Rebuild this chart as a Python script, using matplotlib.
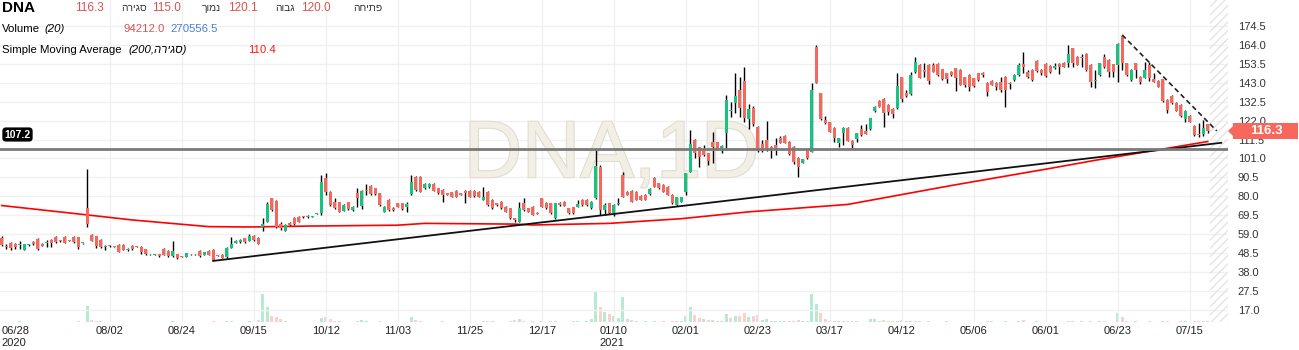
import matplotlib.pyplot as plt
import matplotlib.patheffects as pe
from matplotlib.patches import Rectangle, Polygon

plt.rcParams['font.family'] = ['Liberation Sans', 'DejaVu Sans']

# daily candles (bar 0 = 06/28/2020)
opens = [57.1, 52.5, 54.0, 53.4, 53.0, 50.3, 53.0, 54.5, 56.4, 53.6,
         54.2, 55.8, 57.6, 55.3, 57.6, 55.5, 57.6, 57.3, 54.0, 73.4,
         58.6, 57.8, 55.8, 52.1, 52.5, 52.1, 53.0, 53.0, 50.0, 52.5,
         52.1, 52.1, 50.6, 47.9, 47.5, 47.9, 50.8, 49.7, 46.9, 47.9,
         46.6, 46.6, 47.9, 47.9, 49.7, 47.5, 49.7, 50.3, 47.1, 47.5,
         46.6, 51.6, 54.3, 54.5, 56.7, 55.3, 58.0, 57.1, 62.8, 66.0,
         78.9, 77.4, 64.5, 60.8, 65.4, 68.2, 68.8, 68.8, 68.4, 68.8,
         70.4, 70.6, 90.0, 82.6, 77.1, 76.7, 72.1, 76.7, 72.4, 81.7,
         74.9, 83.7, 85.9, 84.5, 81.7, 71.5, 78.0, 73.7, 76.1, 76.1,
         73.9, 81.1, 91.0, 91.0, 84.5, 85.0, 86.9, 84.5, 83.5, 81.7,
         82.2, 83.2, 81.7, 83.2, 83.2, 83.2, 82.6, 78.0, 82.6, 78.0,
         76.1, 77.1, 74.3, 73.4, 67.8, 66.0, 76.1, 73.4, 74.3, 71.0,
         78.9, 76.5, 76.1, 67.8, 76.5, 77.1, 73.4, 73.9, 74.3, 78.0,
         78.0, 73.4, 79.3, 96.5, 72.4, 76.1, 70.6, 75.7, 91.9, 82.6,
         83.0, 82.6, 80.2, 80.8, 81.3, 90.0, 87.2, 86.3, 85.4, 80.8,
         75.2, 77.1, 82.6, 93.7, 111.3, 107.2, 106.3, 103.9, 110.3, 110.0,
         106.1, 115.0, 127.2, 132.0, 139.0, 144.2, 122.9, 129.0, 118.7, 109.0,
         111.3, 107.6, 108.3, 112.6, 113.5, 110.3, 107.6, 101.5, 98.7, 105.4,
         104.8, 163.0, 137.2, 122.4, 121.1, 118.1, 109.8, 115.0, 118.1, 110.9,
         111.8, 117.2, 116.4, 117.2, 127.2, 132.9, 134.0, 130.7, 128.5, 128.8,
         146.0, 137.5, 136.8, 148.8, 152.9, 150.1, 152.9, 152.9, 153.4, 150.5,
         148.2, 149.2, 151.0, 150.1, 146.0, 147.3, 145.5, 148.2, 148.6, 143.1,
         144.0, 142.7, 143.6, 146.4, 143.1, 144.5, 147.3, 153.2, 149.2, 150.1,
         155.1, 150.1, 153.4, 152.3, 151.0, 153.4, 154.2, 153.8, 162.1, 157.5,
         157.5, 159.0, 152.9, 144.0, 147.3, 157.5, 155.6, 153.2, 152.9, 169.0,
         153.8, 144.5, 153.8, 146.4, 145.9, 152.9, 145.1, 144.2, 144.9, 133.5,
         135.7, 132.0, 130.7, 122.7, 124.6, 119.0, 114.4, 114.4, 120.0]
highs = [57.8, 53.4, 54.5, 54.0, 55.3, 53.8, 53.6, 55.0, 56.8, 54.0,
         55.8, 56.2, 58.0, 55.6, 58.0, 55.8, 58.0, 57.6, 54.3, 95.2,
         59.0, 58.2, 56.2, 53.0, 52.8, 52.4, 53.4, 53.4, 51.2, 52.9,
         52.4, 52.5, 51.0, 48.2, 48.2, 48.2, 51.2, 50.0, 55.3, 48.2,
         46.9, 48.8, 48.2, 48.2, 50.0, 49.3, 50.0, 50.6, 47.4, 47.8,
         51.9, 57.7, 55.6, 56.1, 57.0, 59.0, 58.3, 57.4, 68.2, 77.1,
         79.3, 77.8, 66.0, 64.4, 65.7, 68.5, 69.1, 69.1, 69.4, 69.1,
         70.9, 91.9, 93.2, 83.0, 78.9, 77.0, 75.5, 77.0, 74.6, 84.5,
         83.3, 86.9, 86.2, 84.8, 82.0, 74.6, 78.3, 74.0, 76.4, 76.4,
         77.1, 91.9, 91.3, 91.3, 87.2, 87.2, 87.2, 84.8, 83.8, 82.0,
         82.5, 83.5, 82.0, 83.5, 83.5, 83.5, 82.9, 85.0, 82.9, 78.3,
         76.4, 77.4, 74.6, 73.7, 68.1, 77.1, 78.9, 73.7, 74.6, 71.3,
         79.2, 76.8, 76.4, 76.4, 76.8, 77.4, 73.7, 74.2, 78.0, 78.3,
         78.3, 77.4, 106.2, 97.4, 76.1, 76.4, 75.5, 78.9, 93.7, 82.9,
         83.3, 82.9, 80.5, 81.1, 84.4, 90.9, 87.5, 86.6, 85.7, 81.1,
         79.8, 79.8, 93.1, 116.8, 111.6, 107.5, 108.5, 104.2, 115.9, 110.3,
         108.2, 136.2, 132.5, 148.6, 146.4, 152.0, 131.2, 130.0, 119.0, 111.3,
         122.0, 107.9, 112.2, 113.5, 113.8, 110.6, 107.9, 101.8, 100.8, 105.7,
         143.0, 164.0, 137.5, 124.6, 121.4, 118.4, 112.5, 118.7, 118.4, 111.2,
         115.3, 119.6, 120.0, 123.6, 130.0, 133.2, 134.3, 131.0, 128.8, 148.6,
         146.3, 139.0, 149.2, 157.1, 153.2, 153.8, 153.2, 153.8, 153.7, 150.8,
         148.5, 149.5, 151.3, 150.4, 146.3, 147.6, 145.8, 148.5, 149.2, 143.4,
         144.3, 143.6, 146.4, 146.7, 143.6, 147.6, 153.8, 159.9, 150.1, 150.4,
         155.4, 150.4, 153.7, 152.6, 153.8, 153.7, 154.5, 164.0, 162.4, 157.8,
         159.0, 159.3, 153.2, 150.1, 154.1, 159.0, 155.9, 153.5, 165.0, 169.5,
         154.1, 150.4, 154.1, 146.7, 154.7, 154.7, 148.2, 144.5, 145.2, 133.8,
         136.0, 132.3, 131.0, 127.7, 124.9, 119.3, 120.9, 122.4, 120.1]
lows = [52.5, 50.8, 50.5, 51.0, 50.8, 50.0, 52.6, 53.2, 50.0, 52.4,
        52.1, 52.1, 54.2, 54.8, 54.0, 55.0, 54.2, 50.6, 53.8, 63.2,
        55.0, 51.6, 51.2, 50.3, 52.0, 51.8, 49.0, 50.0, 49.8, 50.3,
        51.8, 47.9, 47.6, 47.6, 47.2, 46.4, 47.2, 46.6, 46.6, 45.1,
        46.3, 46.3, 47.6, 47.6, 46.6, 47.2, 47.2, 44.2, 46.8, 45.7,
        46.0, 51.2, 54.0, 54.2, 54.0, 55.0, 55.5, 53.3, 61.0, 65.6,
        72.0, 62.3, 61.4, 60.5, 63.8, 64.2, 65.7, 68.2, 68.1, 68.5,
        70.2, 69.7, 80.8, 74.8, 73.0, 71.2, 71.8, 72.5, 72.1, 74.3,
        73.0, 80.8, 80.8, 81.0, 74.9, 71.2, 72.1, 72.1, 74.0, 72.5,
        71.5, 80.8, 83.2, 82.3, 84.2, 84.7, 82.9, 81.4, 77.1, 80.5,
        79.5, 79.5, 80.7, 76.1, 79.5, 79.9, 79.5, 77.7, 74.9, 73.1,
        74.9, 73.1, 71.2, 67.5, 66.0, 65.7, 72.1, 71.2, 69.4, 70.0,
        74.0, 73.1, 70.3, 67.5, 74.9, 74.4, 70.3, 70.3, 74.0, 74.9,
        74.9, 73.1, 78.5, 69.7, 69.7, 70.3, 69.0, 75.4, 79.5, 80.5,
        76.8, 77.7, 77.7, 77.7, 81.0, 85.1, 84.2, 82.3, 80.5, 75.8,
        74.9, 76.8, 80.8, 93.4, 101.1, 96.5, 102.6, 97.4, 98.3, 106.0,
        104.0, 105.7, 124.2, 126.0, 124.2, 121.4, 117.2, 119.0, 104.8, 104.8,
        105.2, 101.1, 103.0, 109.5, 109.5, 103.2, 98.0, 90.9, 98.4, 100.8,
        104.5, 142.8, 122.4, 120.2, 115.6, 110.0, 107.6, 108.5, 110.6, 106.1,
        110.3, 113.7, 114.3, 116.9, 126.9, 129.4, 118.7, 125.1, 123.3, 128.5,
        132.5, 135.3, 136.2, 148.2, 145.6, 146.4, 142.3, 148.9, 147.0, 144.6,
        142.7, 147.0, 138.6, 141.5, 140.9, 138.6, 140.9, 144.2, 146.4, 135.7,
        141.5, 139.0, 138.1, 129.7, 139.4, 144.2, 147.0, 148.2, 145.5, 144.2,
        149.2, 147.3, 146.4, 148.2, 150.5, 147.7, 151.7, 152.0, 152.0, 152.6,
        152.0, 149.5, 140.5, 139.9, 147.0, 151.3, 146.4, 146.4, 143.6, 150.1,
        147.0, 144.2, 145.5, 142.3, 145.6, 144.2, 143.3, 140.6, 132.5, 126.1,
        131.3, 127.1, 123.8, 121.4, 121.1, 113.5, 112.7, 113.5, 115.0]
closes = [53.0, 51.9, 51.2, 51.7, 53.2, 53.4, 53.2, 53.6, 50.8, 52.7,
          54.5, 54.0, 54.5, 55.1, 54.3, 55.3, 54.5, 52.1, 54.1, 64.5,
          55.3, 52.5, 52.1, 52.5, 52.3, 52.0, 49.3, 50.3, 50.8, 50.6,
          52.0, 49.0, 47.9, 47.8, 47.9, 47.1, 47.5, 46.9, 49.7, 46.0,
          46.5, 48.4, 47.8, 47.8, 46.9, 49.0, 47.5, 44.7, 47.0, 46.0,
          51.6, 53.6, 55.3, 55.8, 54.9, 58.0, 55.8, 53.6, 64.7, 75.8,
          72.4, 63.2, 62.3, 64.1, 64.1, 64.5, 66.0, 68.5, 69.1, 68.9,
          70.6, 88.2, 82.6, 75.2, 73.4, 71.5, 75.2, 72.8, 74.3, 78.9,
          83.0, 83.2, 81.1, 81.3, 75.2, 74.3, 72.4, 72.4, 74.3, 72.8,
          75.6, 88.2, 83.5, 82.6, 86.9, 86.9, 83.2, 81.7, 80.8, 80.8,
          79.8, 79.8, 81.0, 81.7, 79.8, 80.2, 79.8, 79.8, 75.2, 73.4,
          75.2, 73.4, 71.5, 67.8, 66.9, 73.4, 72.4, 71.5, 69.7, 70.3,
          74.3, 73.4, 70.6, 76.1, 75.2, 74.7, 70.6, 70.6, 75.6, 75.2,
          75.2, 77.1, 96.9, 72.4, 75.2, 70.6, 75.2, 76.2, 79.8, 80.8,
          77.1, 78.0, 78.0, 78.0, 84.1, 85.4, 84.5, 82.6, 80.8, 76.1,
          79.5, 79.5, 92.8, 109.1, 103.9, 101.7, 102.9, 99.8, 107.6, 106.3,
          107.9, 133.5, 127.6, 135.7, 128.8, 123.3, 128.5, 120.0, 106.3, 106.3,
          107.0, 105.7, 106.6, 109.8, 109.8, 103.5, 99.3, 96.1, 100.5, 101.1,
          139.0, 143.1, 122.7, 120.5, 115.9, 112.2, 112.2, 118.1, 110.9, 108.5,
          115.0, 114.0, 114.6, 123.3, 129.4, 129.7, 126.0, 127.0, 125.5, 141.2,
          133.8, 135.9, 147.3, 154.7, 145.9, 149.2, 144.2, 149.2, 147.3, 144.9,
          145.1, 147.3, 145.5, 141.8, 141.8, 140.9, 141.2, 144.5, 147.3, 138.1,
          141.8, 140.9, 139.0, 139.0, 142.2, 147.3, 152.9, 151.9, 146.4, 144.5,
          149.5, 148.2, 147.0, 149.2, 152.3, 152.0, 152.0, 159.0, 153.8, 152.9,
          156.6, 150.1, 143.6, 144.3, 153.8, 151.6, 149.2, 149.2, 164.5, 153.8,
          147.3, 150.1, 150.1, 143.6, 150.1, 145.5, 143.6, 140.9, 133.1, 127.9,
          131.6, 127.4, 124.6, 127.4, 121.4, 114.0, 113.9, 118.1, 116.3]
# volume, thousands of shares
volumes = [40, 30, 30, 30, 150, 40, 30, 30, 40, 30,
           30, 30, 40, 30, 30, 30, 40, 60, 30, 1600,
           200, 120, 100, 30, 30, 30, 40, 30, 30, 30,
           30, 40, 40, 30, 30, 30, 40, 30, 60, 40,
           30, 40, 30, 30, 40, 30, 30, 60, 30, 30,
           80, 120, 40, 30, 30, 60, 30, 200, 2800, 1500,
           600, 500, 300, 100, 40, 40, 30, 30, 30, 30,
           30, 400, 500, 300, 150, 60, 40, 30, 30, 150,
           250, 60, 40, 40, 60, 30, 40, 30, 30, 30,
           40, 500, 250, 100, 40, 30, 30, 40, 80, 30,
           30, 30, 30, 40, 30, 30, 30, 100, 150, 60,
           30, 40, 40, 60, 200, 350, 80, 40, 60, 30,
           100, 40, 80, 150, 40, 30, 40, 100, 150, 40,
           60, 300, 3000, 1500, 1000, 800, 600, 400, 2500, 300,
           200, 80, 40, 100, 40, 100, 40, 80, 40, 60,
           100, 100, 600, 1500, 700, 400, 300, 250, 200, 100,
           100, 800, 400, 600, 600, 900, 500, 600, 700, 200,
           300, 100, 150, 60, 60, 100, 150, 200, 60, 60,
           2800, 1800, 900, 300, 150, 150, 150, 100, 100, 60,
           60, 40, 40, 300, 350, 150, 200, 60, 60, 150,
           250, 60, 100, 150, 60, 40, 60, 30, 30, 40,
           80, 30, 40, 30, 30, 30, 30, 30, 30, 60,
           80, 30, 30, 60, 30, 40, 80, 200, 40, 30,
           80, 30, 30, 30, 30, 30, 30, 150, 80, 40,
           100, 40, 60, 30, 150, 60, 40, 30, 900, 500,
           150, 40, 100, 30, 40, 60, 40, 40, 100, 60,
           40, 40, 60, 60, 40, 100, 60, 60, 94]

# 200 day SMA, read at a few bars
sma_bars = [0, 19, 29, 40, 46, 55, 68, 88, 94, 114, 118, 135, 151, 166, 188, 211, 233, 243, 268]
sma_vals = [74.9, 69.7, 66.9, 64.5, 63.2, 63.0, 63.5, 64.0, 65.0, 64.6, 64.1, 65.0, 67.6, 71.4,
            75.5, 86.0, 95.5, 100.0, 110.4]

# drawn lines
trend_bars = [47, 271]
trend_vals = [44.2, 109.7]
down_bars = [249, 270]
down_vals = [169.5, 116.3]
level = 106.4
level_label = '107.2'

price_ticks = [174.5, 164.0, 153.5, 143.0, 132.5, 122.0, 111.5, 101.0, 90.5, 80.0,
               69.5, 59.0, 48.5, 38.0, 27.5, 17.0]
date_bars = [0, 24, 40, 56, 72, 88, 104, 120, 136, 152, 168, 184, 200, 216, 232, 248, 264]
date_labels = ['06/28\n2020', '08/02', '08/24', '09/15', '10/12', '11/03', '11/25', '12/17',
               '01/10\n2021', '02/01', '02/23', '03/17', '04/12', '05/06', '06/01', '06/23', '07/15']

GREEN = '#16c47f'
RED = '#f7675c'
W, H = 1299, 350

fig = plt.figure(figsize=(W / 100, H / 100), dpi=100)
ax = fig.add_axes([0, 28 / H, 1228 / W, 322 / H])
vax = ax.twinx()
ax.set_zorder(vax.get_zorder() + 1)
ax.patch.set_visible(False)

n = len(closes)
x = list(range(n))

# volume
vcol = []
for i in range(n):
    prev = closes[i - 1] if i > 0 else opens[0]
    vcol.append('#b5ead3' if closes[i] >= prev else '#fcd0cc')
vax.bar(x, volumes, width=0.7, color=vcol, linewidth=0)
vax.set_ylim(0, 32200)
vax.set_yticks([])
for s in vax.spines.values():
    s.set_visible(False)

# grid
for p in price_ticks:
    ax.axhline(p, color='#f0f0f0', lw=1, zorder=0)
for b in date_bars[1:]:
    ax.axvline(b, color='#f0f0f0', lw=1, zorder=0)

# watermark
ax.text(0.498, 0.515, 'DNA,1D', transform=ax.transAxes, ha='center', va='center',
        fontsize=58, color='#f2efe7', zorder=0.5,
        path_effects=[pe.withStroke(linewidth=1.5, foreground='#e1dbcc')])

# candles
ax.vlines(x, lows, highs, color='black', lw=1, zorder=2)
bottoms = [min(o, c) for o, c in zip(opens, closes)]
heights = [max(abs(c - o), 0.45) for o, c in zip(opens, closes)]
colors = [GREEN if c >= o else RED for o, c in zip(opens, closes)]
ax.bar(x, heights, bottom=bottoms, width=0.68, color=colors, linewidth=0, zorder=3)

# sma + drawings
ax.plot(sma_bars, sma_vals, color='#ff0000', lw=1.2, zorder=2.5)
ax.plot(trend_bars, trend_vals, color='#111111', lw=1.3, zorder=4)
ax.plot(down_bars, down_vals, color='#222222', lw=1.2, ls=(0, (3, 2)), zorder=4)
ax.axhline(level, color='#7a7a7a', lw=2, zorder=4)

# future zone
ax.add_patch(Rectangle((268.5, 0), 10, 300, facecolor='none', edgecolor='#e4e4e4',
                       hatch='////', lw=0, zorder=1))

ax.set_xlim(-0.38, 272.5)
ax.set_ylim(10.3, 188.9)
for s in ax.spines.values():
    s.set_visible(False)

ax.yaxis.tick_right()
ax.set_yticks(price_ticks)
ax.set_yticklabels(['%.1f' % p for p in price_ticks])
ax.tick_params(axis='y', length=0, pad=7, labelsize=8, labelcolor='#333333')
ax.set_xticks(date_bars)
ax.set_xticklabels(date_labels)
ax.tick_params(axis='x', length=0, pad=3, labelsize=8, labelcolor='#222222')
for i, t in enumerate(ax.get_xticklabels()):
    t.set_multialignment('left')
    if i == 0:
        t.set_ha('left')


def fx(px):
    return px / W


def fy(py):
    return 1 - py / H


# last price tag
fig.patches.append(Rectangle((fx(1233), fy(139)), fx(65), 16 / H, transform=fig.transFigure,
                             facecolor=RED, edgecolor='none', figure=fig))
fig.patches.append(Polygon([(fx(1228), fy(131)), (fx(1234), fy(125)), (fx(1234), fy(137))],
                           closed=True, transform=fig.transFigure, facecolor=RED,
                           edgecolor='none', figure=fig))
fig.text(fx(1266), fy(131), '116.3', ha='center', va='center', color='white',
         fontsize=9.5, fontweight='bold')

# level tag
fig.text(fx(17.5), fy(134.5), level_label, ha='center', va='center', color='white',
         fontsize=7.5, fontweight='bold',
         bbox=dict(boxstyle='round,pad=0.2,rounding_size=0.35', fc='black', ec='none'))

# header
hc = '#333333'
vr = '#d9534f'
hb = 7.4
fig.text(fx(2), fy(8), 'DNA', fontsize=11, fontweight='bold', va='center', color='black')
fig.text(fx(75), fy(8), '116.3', fontsize=8.5, va='center', color=vr)
fig.text(fx(121), fy(8), 'סגירה'[::-1], fontsize=hb, va='center', color=hc)
fig.text(fx(152), fy(8), '115.0', fontsize=8.5, va='center', color=vr)
fig.text(fx(202), fy(8), 'נמוך'[::-1], fontsize=hb, va='center', color=hc)
fig.text(fx(228), fy(8), '120.1', fontsize=8.5, va='center', color=vr)
fig.text(fx(275), fy(8), 'גבוה'[::-1], fontsize=hb, va='center', color=hc)
fig.text(fx(301), fy(8), '120.0', fontsize=8.5, va='center', color=vr)
fig.text(fx(353), fy(8), 'פתיחה'[::-1], fontsize=hb, va='center', color=hc)

fig.text(fx(2), fy(29), 'Volume', fontsize=8.2, va='center', color='black')
fig.text(fx(44), fy(29), '(20)', fontsize=8.2, va='center', color='black', style='italic')
fig.text(fx(123), fy(29), '94212.0', fontsize=8.2, va='center', color=vr)
fig.text(fx(170), fy(29), '270556.5', fontsize=8.2, va='center', color='#4a7fd6')

fig.text(fx(2), fy(50), 'Simple Moving Average', fontsize=8.2, va='center', color='black')
fig.text(fx(128), fy(50), '(200,' + 'סגירה'[::-1] + ')', fontsize=8.2, va='center',
         color='black', style='italic')
fig.text(fx(248), fy(50), '110.4', fontsize=8.2, va='center', color='#ff1a1a')

fig.savefig('out.png', dpi=100)
